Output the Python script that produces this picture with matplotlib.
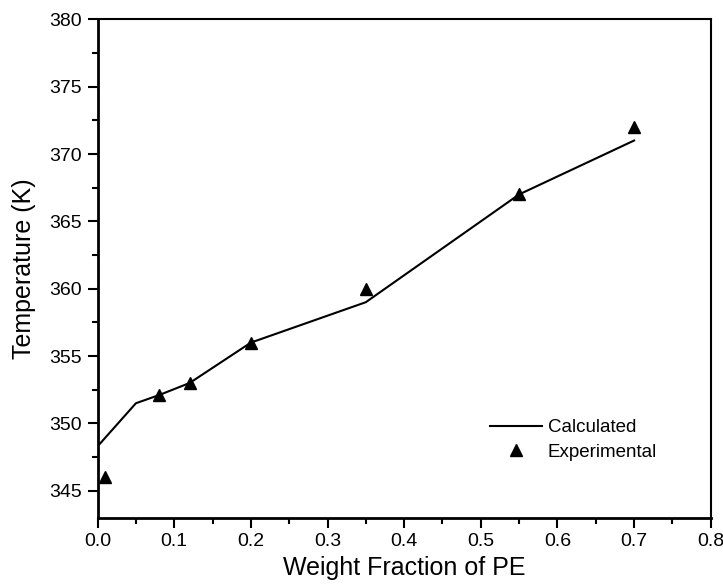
import matplotlib.pyplot as plt
from matplotlib.ticker import MultipleLocator

plt.rcParams['font.family'] = ['Liberation Sans', 'DejaVu Sans']

########################################################################
# Data

calc_x = [0.0, 0.05, 0.08, 0.12, 0.2, 0.35, 0.55, 0.7]
calc_t = [348.3, 351.5, 352.1, 353.0, 356.0, 359.0, 367.0, 371.0]

exp_x = [0.01, 0.08, 0.12, 0.2, 0.35, 0.55, 0.7]
exp_t = [346.0, 352.1, 353.0, 356.0, 360.0, 367.0, 372.0]

########################################################################
# Plot

fig = plt.figure(figsize=(7.23, 5.85), dpi=100)
ax = fig.add_axes([0.135, 0.115, 0.848, 0.852])

ax.plot(calc_x, calc_t, color='black', lw=1.5, label='Calculated')
ax.plot(exp_x, exp_t, ls='none', marker='^', ms=9, color='black', label='Experimental')

ax.set_xlim(0, 0.8)
ax.set_ylim(343, 380)
ax.xaxis.set_major_locator(MultipleLocator(0.1))
ax.xaxis.set_minor_locator(MultipleLocator(0.05))
ax.yaxis.set_major_locator(MultipleLocator(5))
ax.yaxis.set_minor_locator(MultipleLocator(2.5))
ax.xaxis.set_major_formatter(plt.FuncFormatter(lambda v, _: f"{v:.1f}"))

ax.tick_params(which='major', direction='out', length=7, width=1.5, labelsize=14, pad=4)
ax.tick_params(which='minor', direction='out', length=4, width=1.5)
ax.tick_params(top=False, right=False)
for side in ['left', 'bottom']:
    ax.spines[side].set_linewidth(2)
for side in ['top', 'right']:
    ax.spines[side].set_linewidth(1.5)

ax.set_xlabel("Weight Fraction of PE", fontsize=18, labelpad=4)
ax.set_ylabel("Temperature (K)", fontsize=18, labelpad=10)

ax.legend(loc='lower right', bbox_to_anchor=(0.94, 0.08), frameon=False,
          fontsize=13.5, handlelength=2.8, handletextpad=0.3, labelspacing=0.4)

fig.savefig("out.png", dpi=100)
